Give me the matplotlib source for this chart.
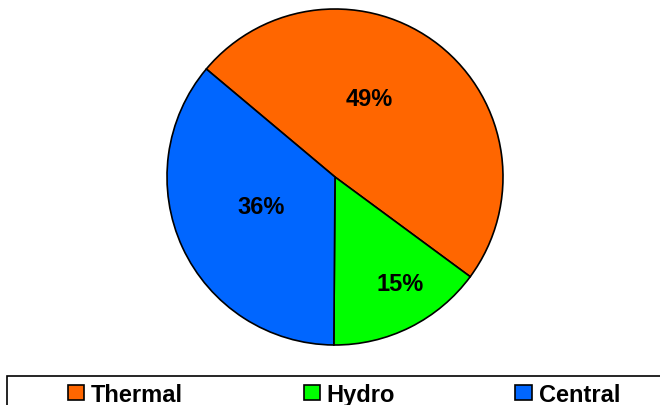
import matplotlib
matplotlib.use("Agg")
import matplotlib.pyplot as plt
from matplotlib.patches import Patch, Rectangle

# Generation share by source (%)
sources = ["Thermal", "Hydro", "Central"]
shares = [49, 15, 36]
colors = ["#FF6600", "#00FF00", "#0066FF"]

W, H = 660, 406
fig = plt.figure(figsize=(W / 100, H / 100), dpi=100)
ax = fig.add_axes([0, 0, 1, 1])

font = ["Liberation Sans", "DejaVu Sans"]

cx, cy, r = 335, H - 178, 168
wedges, texts, autotexts = ax.pie(
    shares, colors=colors, startangle=140, counterclock=False,
    center=(cx, cy), radius=r, frame=True,
    autopct=lambda p: f"{p:.0f}%",
    wedgeprops=dict(edgecolor="black", linewidth=1.2),
    textprops=dict(fontsize=17, fontweight="bold", family=font, color="black"),
)
ax.set_xlim(0, W)
ax.set_ylim(0, H)
ax.set_aspect("equal")
ax.axis("off")

# label anchor points (pixel coords from top-left)
label_pos = [(369, 100), (400, 285), (261, 208)]
for t, (px, py) in zip(autotexts, label_pos):
    t.set_position((px, H - py))
    t.set_ha("center")
    t.set_va("center")

# legend frame running off the bottom/right of the canvas
fig.patches.append(Rectangle((7 / W, -0.1), 1.0, (H - 377) / H + 0.1,
                             transform=fig.transFigure, facecolor="white",
                             edgecolor="black", linewidth=1.2))

handles = [Patch(facecolor=c, edgecolor="black", linewidth=1.2) for c in colors]
leg = fig.legend(handles, sources, loc="lower left",
                 bbox_to_anchor=(68 / W, -1 / H), ncol=3, frameon=False,
                 prop=dict(size=17, weight="bold", family=font),
                 handlelength=0.68, handleheight=0.62, handletextpad=0.3,
                 columnspacing=5.1, borderpad=0, borderaxespad=0)

fig.savefig("out.png", dpi=100)
